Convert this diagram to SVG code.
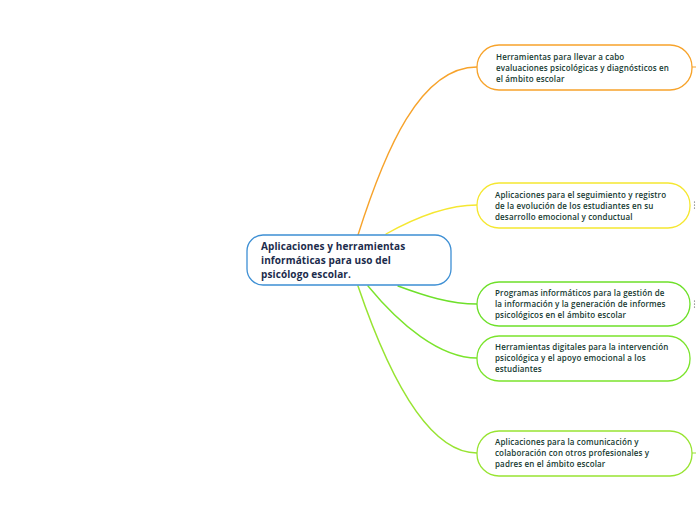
<svg xmlns="http://www.w3.org/2000/svg" width="696" height="520" viewBox="0 0 696 520">
<style>
.c{fill:none;stroke-linecap:round}
.n{fill:#ffffff;stroke-width:1.3}
.t{font-family:"Open Sans","Noto Sans",sans-serif;font-weight:600;font-size:8px;letter-spacing:0.14px;fill:#163a31}
.m{font-family:"Open Sans","Noto Sans",sans-serif;font-weight:700;font-size:10px;letter-spacing:0.1px;fill:#1c2c4c}
.d{fill:#444}
</style>
<rect width="696" height="520" fill="#ffffff"/>
<g id="connectors">
<path class="c" d="M358,235 C385,150 420,67 477,67" stroke="#f7a32b" stroke-width="1.4"/>
<path class="c" d="M386,234 C420,215 450,205 477,205" stroke="#f5e731" stroke-width="1.4"/>
<path class="c" d="M398,286 C425,296 450,304 477,304" stroke="#6ee02a" stroke-width="1.4"/>
<path class="c" d="M368,286 C400,325 440,358 477,358" stroke="#7be42c" stroke-width="1.4"/>
<path class="c" d="M358,286 C390,380 430,453 477,453" stroke="#98e432" stroke-width="1.5"/>
<path class="c" d="M692,67 L696,67" stroke="#f7a32b" stroke-width="1.2"/>
<path class="c" d="M692,453 L696,453" stroke="#98e432" stroke-width="1.2"/>
</g>
<g id="central">
<rect class="n" x="247" y="235" width="204" height="50" rx="16" stroke="#3d8fd4"/>
<text class="m" x="261" y="250">Aplicaciones y herramientas</text>
<text class="m" x="261" y="264">informáticas para uso del</text>
<text class="m" x="261" y="278">psicólogo escolar.</text>
</g>
<g id="node1">
<rect class="n" x="477" y="45" width="215" height="45" rx="22" stroke="#f7a32b"/>
<text class="t" x="496" y="60">Herramientas para llevar a cabo</text>
<text class="t" x="496" y="71">evaluaciones psicológicas y diagnósticos en</text>
<text class="t" x="496" y="82">el ámbito escolar</text>
</g>
<g id="node2">
<rect class="n" x="477" y="183" width="213" height="45" rx="22" stroke="#f5e731"/>
<text class="t" x="495" y="198">Aplicaciones para el seguimiento y registro</text>
<text class="t" x="495" y="209">de la evolución de los estudiantes en su</text>
<text class="t" x="495" y="220">desarrollo emocional y conductual</text>
<circle class="d" cx="694.5" cy="202" r="0.6"/><circle class="d" cx="694.5" cy="205" r="0.6"/><circle class="d" cx="694.5" cy="208" r="0.6"/>
</g>
<g id="node3">
<rect class="n" x="477" y="282" width="213" height="44" rx="22" stroke="#6ee02a"/>
<text class="t" x="495" y="296">Programas informáticos para la gestión de</text>
<text class="t" x="495" y="307">la información y la generación de informes</text>
<text class="t" x="495" y="318">psicológicos en el ámbito escolar</text>
<circle class="d" cx="694.5" cy="301" r="0.6"/><circle class="d" cx="694.5" cy="304" r="0.6"/><circle class="d" cx="694.5" cy="307" r="0.6"/>
</g>
<g id="node4">
<rect class="n" x="477" y="336" width="213" height="45" rx="22" stroke="#7be42c"/>
<text class="t" x="495" y="350">Herramientas digitales para la intervención</text>
<text class="t" x="495" y="361">psicológica y el apoyo emocional a los</text>
<text class="t" x="495" y="372">estudiantes</text>
</g>
<g id="node5">
<rect class="n" x="477" y="431" width="215" height="45" rx="22" stroke="#98e432"/>
<text class="t" x="495" y="445">Aplicaciones para la comunicación y</text>
<text class="t" x="495" y="456">colaboración con otros profesionales y</text>
<text class="t" x="495" y="467">padres en el ámbito escolar</text>
</g>
</svg>
